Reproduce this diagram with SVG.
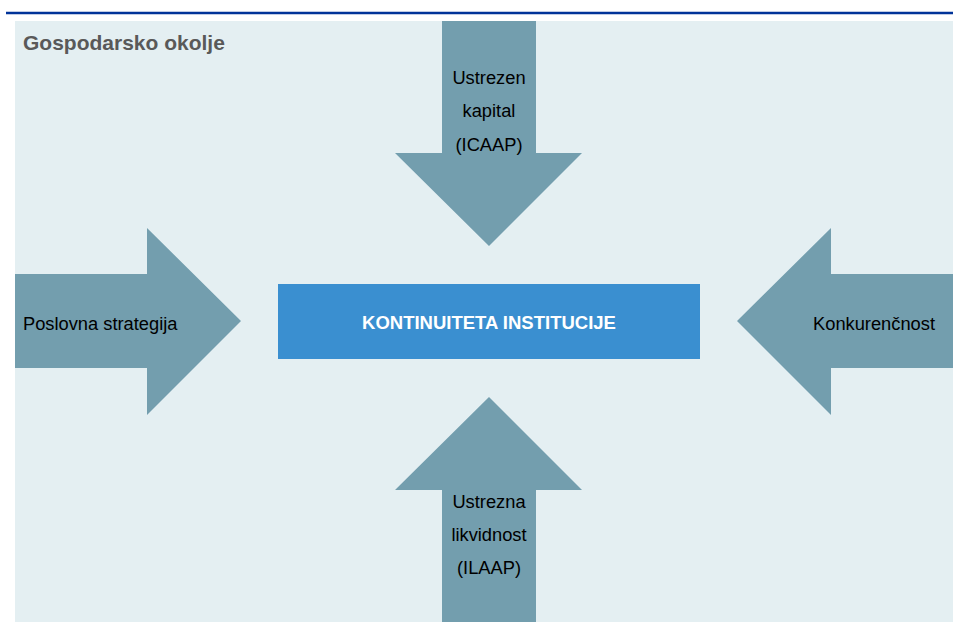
<svg xmlns="http://www.w3.org/2000/svg" width="953" height="627" viewBox="0 0 953 627">
<style>
.arrow{fill:#739EAE}
.lbl{font-family:"Liberation Sans",Arial,sans-serif;font-size:18.3px;fill:#000;text-anchor:middle}
.title{font-family:"Liberation Sans",Arial,sans-serif;font-size:21px;font-weight:bold;fill:#595959}
.ctr{font-family:"Liberation Sans",Arial,sans-serif;font-size:18.5px;font-weight:bold;fill:#fff;text-anchor:middle}
</style>
<rect x="0" y="0" width="953" height="627" fill="#fff"/>
<rect x="15" y="21" width="938" height="601" fill="#E4EFF2"/>
<line x1="6" y1="13" x2="953" y2="13" stroke="#003399" stroke-width="2.5"/>
<text class="title" x="23" y="50">Gospodarsko okolje</text>
<g id="connectors">
<g id="arrow-top">
<polygon class="arrow" points="442,21 536,21 536,153 582,153 489,246 395,153 442,153"/>
<text class="lbl" x="489" y="84">Ustrezen</text>
<text class="lbl" x="489" y="117">kapital</text>
<text class="lbl" x="489" y="151">(ICAAP)</text>
</g>
<g id="arrow-left">
<polygon class="arrow" points="15,274 147,274 147,228 241,321 147,415 147,368 15,368"/>
<text class="lbl" x="23" y="330" style="text-anchor:start">Poslovna strategija</text>
</g>
<g id="arrow-right">
<polygon class="arrow" points="953,274 831,274 831,228 737,321 831,415 831,368 953,368"/>
<text class="lbl" x="874" y="330">Konkurenčnost</text>
</g>
<g id="arrow-bottom">
<polygon class="arrow" points="442,622 536,622 536,490 582,490 489,397 395,490 442,490"/>
<text class="lbl" x="489" y="508">Ustrezna</text>
<text class="lbl" x="489" y="541">likvidnost</text>
<text class="lbl" x="489" y="574">(ILAAP)</text>
</g>
</g>
<g id="center">
<rect x="278" y="284" width="422" height="75" fill="#3A8FD0"/>
<text class="ctr" x="489" y="329">KONTINUITETA INSTITUCIJE</text>
</g>
</svg>
